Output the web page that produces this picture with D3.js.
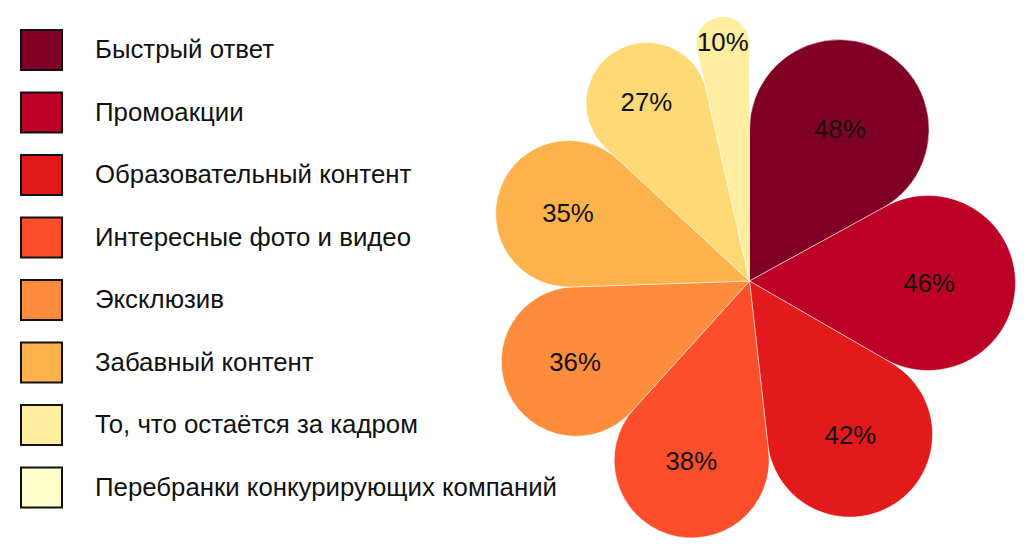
<!DOCTYPE html>
<html>
<head>
<meta charset="utf-8">
<script src="https://cdn.jsdelivr.net/npm/d3@7"></script>
<style>
  html, body { margin: 0; padding: 0; background: #fff; }
  svg { display: block; }
  text { font-family: "Liberation Sans", Arial, sans-serif; }
</style>
</head>
<body>
<svg id="chart" width="1024" height="558"></svg>
<script>
const categories = [
  "Быстрый ответ",
  "Промоакции",
  "Образовательный контент",
  "Интересные фото и видео",
  "Эксклюзив",
  "Забавный контент",
  "То, что остаётся за кадром",
  "Перебранки конкурирующих компаний"
];
const values = [48, 46, 42, 38, 36, 35, 27, 10];
const valueLabels = ["48%", "46%", "42%", "38%", "36%", "35%", "27%", "10%"];
const petalColors = ["#800026", "#bd0026", "#e31a1c", "#fc4e2a", "#fd8d3c", "#feb24c", "#fed976", "#ffeda0"];
const legendColors = ["#800026", "#bd0026", "#e31a1c", "#fc4e2a", "#fd8d3c", "#feb24c", "#ffeda0", "#ffffcc"];

const svg = d3.select("#chart");
const cx = 749.5, cy = 281, R = 266;

const pie = d3.pie().sort(null).value(d => d)(values);
const arc = d3.arc().innerRadius(0).outerRadius(R).cornerRadius(R / 2);

const g = svg.append("g").attr("transform", `translate(${cx},${cy})`);
g.selectAll("path.petal")
  .data(pie)
  .join("path")
  .attr("class", "petal")
  .attr("d", arc)
  .attr("fill", (d, i) => petalColors[i])
  .attr("stroke", "#ffffff")
  .attr("stroke-width", 0.5);

g.selectAll("text.lbl")
  .data(pie)
  .join("text")
  .attr("class", "lbl")
  .attr("transform", d => {
    const da = d.endAngle - d.startAngle;
    const mid = (d.startAngle + d.endAngle) / 2;
    const s = Math.sin(da / 2);
    const rc = R * s / (1 + s);
    const dist = R - rc + 1;
    return `translate(${dist * Math.sin(mid)},${-dist * Math.cos(mid)})`;
  })
  .attr("text-anchor", "middle")
  .attr("dy", "0.35em")
  .attr("font-size", 25.8)
  .attr("fill", "#111")
  .text((d, i) => valueLabels[i]);

const legend = svg.append("g");
const yL = d3.scaleBand().domain(categories).range([30, 30 + 62.5 * 8]);
const items = legend.selectAll("g.item")
  .data(categories)
  .join("g")
  .attr("class", "item")
  .attr("transform", d => `translate(21,${yL(d)})`);
items.append("rect")
  .attr("width", 41).attr("height", 40)
  .attr("fill", (d, i) => legendColors[i])
  .attr("stroke", "#111").attr("stroke-width", 2);
items.append("text")
  .attr("x", 74).attr("y", 28)
  .attr("font-size", 25.8)
  .attr("fill", "#111")
  .text(d => d);
</script>
</body>
</html>
